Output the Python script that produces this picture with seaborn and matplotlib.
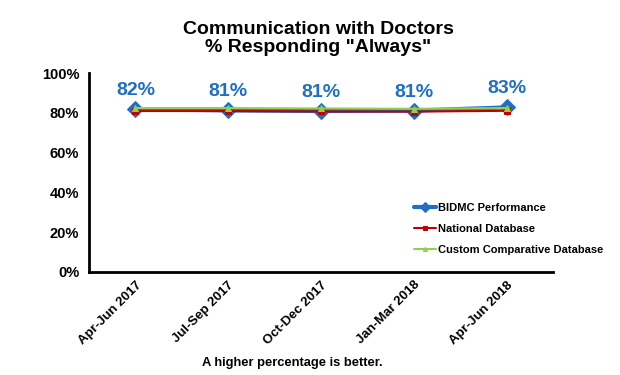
import pandas as pd
import matplotlib
matplotlib.use('Agg')
import matplotlib.pyplot as plt
import seaborn as sns

quarters = ['Apr-Jun 2017', 'Jul-Sep 2017', 'Oct-Dec 2017', 'Jan-Mar 2018', 'Apr-Jun 2018']
bidmc = [81.8, 81.2, 80.9, 81.1, 82.7]
national = [80.9, 80.9, 80.7, 80.6, 81.0]
custom = [82.4, 82.4, 82.2, 82.0, 82.4]

sns.set_style('white')
plt.rcParams['font.family'] = ['Liberation Sans', 'DejaVu Sans']
plt.rcParams['text.color'] = 'black'
plt.rcParams['xtick.color'] = 'black'
plt.rcParams['ytick.color'] = 'black'

fig = plt.figure(figsize=(6.2, 3.75), dpi=100)
ax = fig.add_axes([0.1435, 0.2747, 0.7485, 0.5306])

x = list(range(len(quarters)))
sns.lineplot(x=x, y=bidmc, ax=ax, color='#1F6FC5', linewidth=3, marker='D',
             markersize=8, markeredgecolor='#1F6FC5', label='BIDMC Performance', zorder=3)
sns.lineplot(x=x, y=national, ax=ax, color='#C00000', linewidth=1.5, marker='s',
             markersize=4, markeredgecolor='#C00000', label='National Database', zorder=4)
sns.lineplot(x=x, y=custom, ax=ax, color='#92D050', linewidth=1.5, marker='^',
             markersize=5, markeredgecolor='#92D050', label='Custom Comparative Database', zorder=5)

for i, v in enumerate(bidmc):
    ax.text(i, v + 5.0, f'{v:.0f}%', ha='center', va='bottom', color='#1F6FC5',
            fontsize=14, fontweight='bold')

ax.set_xlim(-0.5, 4.5)
ax.set_ylim(0, 100)
ax.set_yticks(range(0, 101, 20))
ax.set_yticklabels([f'{t}%' for t in range(0, 101, 20)], fontsize=10.5, fontweight='bold')
ax.set_xticks([i - 0.5 for i in range(len(quarters) + 1)])
ax.set_xticklabels([])
ax.set_xticks(x, minor=True)
ax.set_xticklabels(quarters, minor=True, rotation=45, ha='right', rotation_mode='anchor',
                   fontsize=9.5, fontweight='bold')
ax.tick_params(axis='x', which='minor', length=0, pad=5)
ax.tick_params(axis='x', which='major', direction='out', length=4, width=2, color='black')
ax.tick_params(axis='y', direction='out', length=4, width=2, color='black', pad=3)
ax.spines['top'].set_visible(False)
ax.spines['right'].set_visible(False)
ax.spines['left'].set_linewidth(2)
ax.spines['bottom'].set_linewidth(2)
ax.spines['left'].set_color('black')
ax.spines['bottom'].set_color('black')

ax.legend(loc='upper left', bbox_to_anchor=(0.69, 0.37), frameon=False,
          prop={'size': 8, 'weight': 'bold'}, handlelength=2.0, handletextpad=0.2,
          labelspacing=1.0, borderaxespad=0, markerscale=0.6)

fig.text(0.513, 0.897, 'Communication with Doctors\n% Responding "Always"', ha='center',
         va='center', fontsize=14, fontweight='bold', linespacing=1.1)
fig.text(0.472, 0.032, 'A higher percentage is better.', ha='center', va='center',
         fontsize=9.3, fontweight='bold')

plt.savefig('out.png', dpi=100)
